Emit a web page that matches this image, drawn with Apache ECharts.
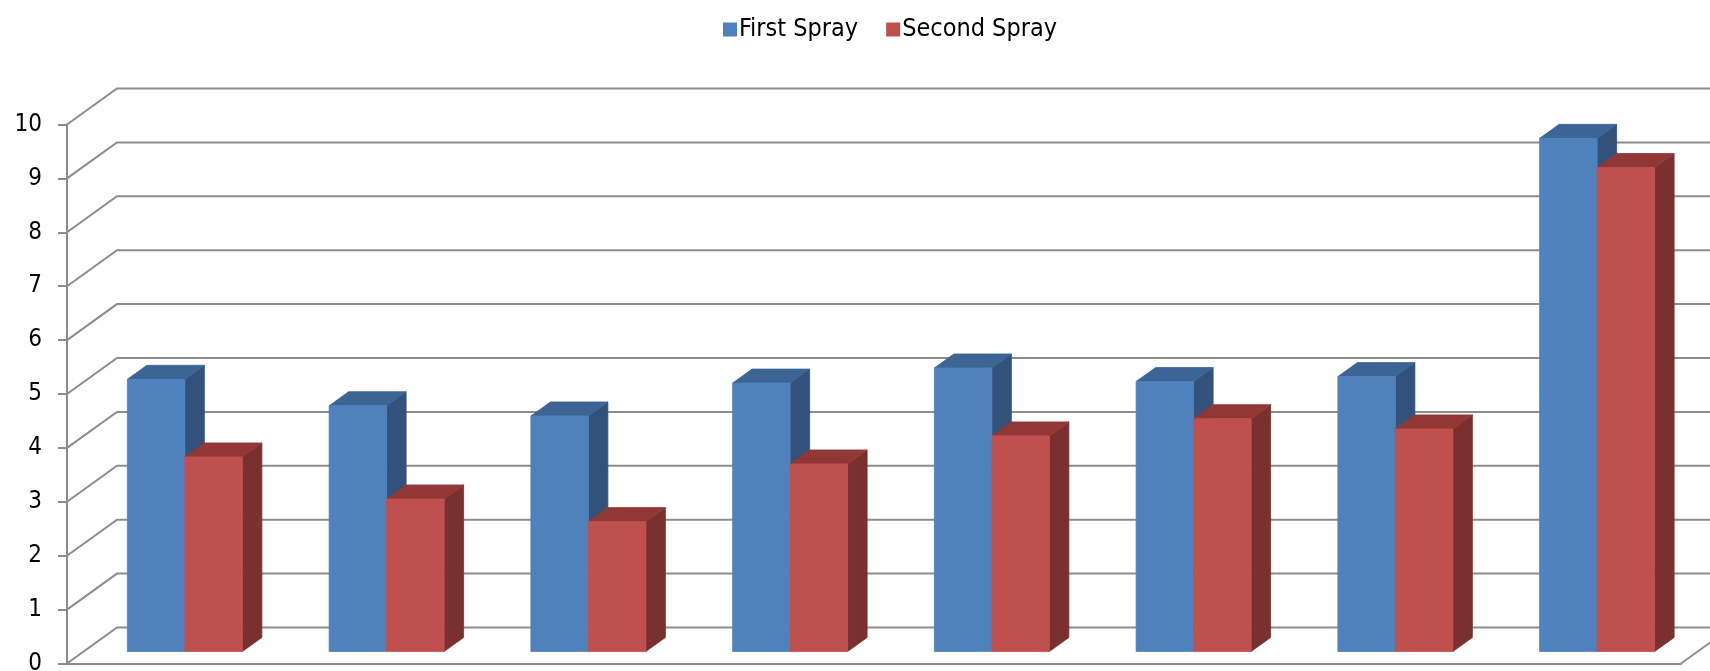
<!DOCTYPE html>
<html>
<head>
<meta charset="utf-8">
<title>First and Second Spray</title>
<script src="https://cdn.jsdelivr.net/npm/echarts@6/dist/echarts.min.js"></script>
<style>
  html, body { margin: 0; padding: 0; background: #ffffff; }
  #chart { width: 1710px; height: 671px; }
</style>
</head>
<body>
<div id="chart"></div>
<script>
// ---- data ----
const categories = ['1', '2', '3', '4', '5', '6', '7', '8'];
const firstSpray = [5.05, 4.56, 4.37, 4.98, 5.26, 5.01, 5.10, 9.52];
const secondSpray = [3.61, 2.83, 2.41, 3.48, 4.00, 4.32, 4.13, 8.98];
const yTicks = [0, 1, 2, 3, 4, 5, 6, 7, 8, 9, 10];

// ---- oblique projection used for the pseudo-3D look ----
const WALL_DX = 50, WALL_DY = -36;      // front plane -> back wall
const BAR_DX = 17, BAR_DY = -12;        // front plane -> bar front faces
const BAR_DEPTH_DX = 19.5, BAR_DEPTH_DY = -14; // bar depth
const BAR_FRACTION = 0.285;             // one bar width / category width
const GRID_COLOR = '#8c8c8c';

const palette = {
  first:  { front: '#4F81BD', top: '#3C6494', side: '#32527C' },
  second: { front: '#C0504D', top: '#913837', side: '#7A302E' }
};

// back wall + left side wall gridlines, one per tick value
function renderWall(params, api) {
  const v = api.value(1);
  const cs = params.coordSys;
  const y = api.coord([0, v])[1];
  const left = cs.x, right = cs.x + cs.width;
  const lineStyle = { stroke: GRID_COLOR, lineWidth: 2, fill: null };
  const children = [{
    type: 'polyline',
    shape: { points: [[left, y], [left + WALL_DX, y + WALL_DY], [right + WALL_DX, y + WALL_DY]] },
    style: lineStyle
  }];
  if (v === 0) {
    // right edge of the floor
    children.push({
      type: 'line',
      shape: { x1: right, y1: y, x2: right + WALL_DX, y2: y + WALL_DY },
      style: lineStyle
    });
  }
  return { type: 'group', children };
}

// a box-shaped column: front, top and right side faces
function face(type, shape, color) {
  // thin stroke in the face colour hides anti-aliasing seams between faces
  return { type, shape, style: { fill: color, stroke: color, lineWidth: 0.8 } };
}

function makeBarRenderer(slot, c) {
  return function (params, api) {
    const i = api.value(0), v = api.value(1);
    const top = api.coord([i, v]);
    const base = api.coord([i, 0]);
    const cw = api.size([1, 0])[0];
    const bw = cw * BAR_FRACTION;
    const x0 = top[0] + slot * bw + BAR_DX;
    const x1 = x0 + bw;
    const yt = top[1] + BAR_DY;
    const yb = base[1] + BAR_DY;
    const ddx = BAR_DEPTH_DX, ddy = BAR_DEPTH_DY;
    return {
      type: 'group',
      children: [
        face('polygon', { points: [[x1, yt], [x1 + ddx, yt + ddy], [x1 + ddx, yb + ddy], [x1, yb]] }, c.side),
        face('polygon', { points: [[x0, yt], [x1, yt], [x1 + ddx, yt + ddy], [x0 + ddx, yt + ddy]] }, c.top),
        face('rect', { x: x0, y: yt, width: bw, height: yb - yt }, c.front)
      ]
    };
  };
}

const chart = echarts.init(document.getElementById('chart'), null, { renderer: 'canvas' });

const font = '"DejaVu Sans Condensed", "DejaVu Sans", sans-serif';

chart.setOption({
  animation: false,
  color: [palette.first.front, palette.second.front],
  legend: {
    data: ['First Spray', 'Second Spray'],
    left: 718,
    top: 12,
    icon: 'rect',
    itemWidth: 14,
    itemHeight: 14,
    itemGap: 28,
    textStyle: { fontFamily: font, fontSize: 25, color: '#000000', padding: [0, 0, 0, -3] }
  },
  grid: {
    left: 67,
    right: 29,
    top: 124.5,
    bottom: 7.5,
    containLabel: false,
    outerBoundsMode: 'none'
  },
  xAxis: {
    type: 'category',
    data: categories,
    boundaryGap: true,
    axisLine: { show: true, lineStyle: { color: GRID_COLOR, width: 2 } },
    axisTick: { show: false },
    axisLabel: { show: false },
    splitLine: { show: false }
  },
  yAxis: {
    type: 'value',
    min: 0,
    max: 10,
    interval: 1,
    axisLine: { show: true, lineStyle: { color: GRID_COLOR, width: 2 } },
    axisTick: { show: true, length: 9, lineStyle: { color: GRID_COLOR, width: 2 } },
    axisLabel: { margin: 25, fontFamily: font, fontSize: 24, color: '#000000' },
    splitLine: { show: false }
  },
  series: [
    {
      name: 'walls',
      type: 'custom',
      renderItem: renderWall,
      data: yTicks.map(v => [0, v]),
      encode: { x: 0, y: 1 },
      clip: false,
      silent: true,
      z: 1
    },
    {
      name: 'First Spray',
      type: 'custom',
      renderItem: makeBarRenderer(-1, palette.first),
      data: firstSpray.map((v, i) => [i, v]),
      encode: { x: 0, y: 1 },
      itemStyle: { color: palette.first.front },
      clip: false,
      z: 2
    },
    {
      name: 'Second Spray',
      type: 'custom',
      renderItem: makeBarRenderer(0, palette.second),
      data: secondSpray.map((v, i) => [i, v]),
      encode: { x: 0, y: 1 },
      itemStyle: { color: palette.second.front },
      clip: false,
      z: 2
    }
  ]
});
</script>
</body>
</html>
